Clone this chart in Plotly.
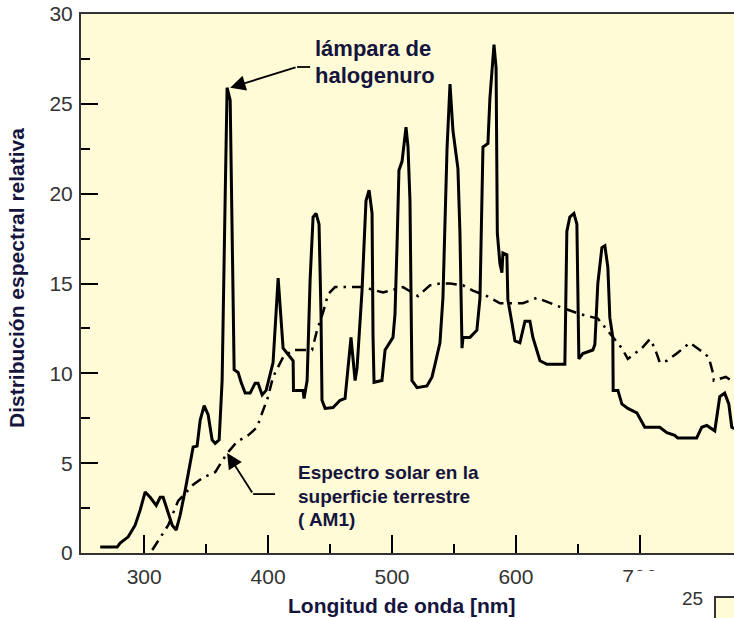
import plotly.graph_objects as go

# Halide lamp relative spectral distribution (solid line)
lamp_nm = [264.5, 278.2, 280.6, 287.1, 292.7, 296.8, 300.8, 304.8, 309.7, 312.9,
           315.3, 318.5, 322.6, 325.8, 329.0, 333.1, 337.1, 339.5, 342.7, 345.2,
           348.4, 351.6, 354.8, 357.3, 360.5, 362.9, 365.3, 366.9, 369.4, 372.6,
           375.8, 378.2, 381.5, 385.5, 389.5, 391.9, 395.2, 398.4, 404.0, 408.1,
           412.1, 420.2, 420.5, 428.2, 429.0, 431.5, 433.9, 436.3, 438.7, 441.1,
           442.7, 443.5, 446.0, 452.4, 458.1, 462.1, 464.5, 466.9, 470.2, 471.8,
           475.8, 479.0, 481.5, 483.9, 484.7, 485.5, 491.9, 494.4, 500.8, 502.4,
           504.0, 505.6, 508.1, 511.3, 512.9, 514.5, 516.1, 520.2, 528.2, 532.3,
           534.7, 538.7, 541.1, 544.4, 546.8, 549.2, 553.2, 554.8, 556.5, 557.3,
           562.9, 568.5, 571.0, 573.4, 577.4, 579.0, 582.3, 584.0, 585.0, 587.1,
           588.7, 589.5, 592.7, 593.5, 596.8, 599.2, 603.2, 607.3, 611.3, 613.7,
           619.4, 625.0, 639.5, 641.1, 643.5, 646.8, 649.2, 650.0, 650.8, 654.0,
           662.1, 663.7, 666.1, 669.4, 671.8, 674.2, 675.8, 678.2, 678.5, 682.3,
           685.5, 690.3, 697.6, 704.0, 716.1, 721.8, 728.2, 730.6, 745.9, 750.0,
           754.0, 760.5, 764.5, 768.5, 771.8, 774.2, 777.0]
lamp_val = [0.33, 0.33, 0.55, 0.9, 1.55, 2.4, 3.4, 3.1, 2.65, 3.1,
            3.1, 2.4, 1.55, 1.28, 2.1, 3.5, 5.05, 5.9, 5.95, 7.4,
            8.2, 7.7, 6.3, 6.1, 6.3, 9.6, 19.6, 25.9, 25.2, 10.2,
            10.05, 9.5, 8.9, 8.9, 9.45, 9.45, 8.8, 9.05, 10.6, 15.3,
            11.4, 10.7, 9.05, 9.05, 8.6, 9.6, 15.2, 18.7, 18.9, 18.3,
            13.3, 8.5, 8.05, 8.1, 8.5, 8.6, 10.3, 12.0, 9.6, 10.3,
            14.6, 19.6, 20.2, 18.9, 12.0, 9.5, 9.6, 11.3, 12.0, 13.3,
            17.0, 21.3, 21.8, 23.7, 22.6, 19.6, 9.6, 9.2, 9.3, 9.8,
            10.5, 11.7, 14.2, 22.5, 26.1, 23.5, 21.4, 17.9, 11.4, 12.0,
            12.0, 12.4, 14.2, 22.6, 22.8, 25.3, 28.3, 27.0, 17.8, 16.1,
            15.6, 16.7, 16.6, 14.1, 12.8, 11.8, 11.7, 12.9, 12.9, 12.0,
            10.7, 10.5, 10.5, 17.9, 18.7, 18.9, 18.3, 14.2, 10.8, 11.1,
            11.3, 11.6, 15.0, 17.0, 17.1, 15.9, 13.1, 12.0, 9.05, 9.05,
            8.3, 8.05, 7.8, 7.0, 7.0, 6.7, 6.55, 6.4, 6.4, 7.0,
            7.1, 6.8, 8.7, 8.9, 8.3, 7.0, 6.9]

# Solar spectrum at the earth's surface, AM1 (dash-dot line)
solar_nm = [306.5, 319.4, 327.4, 339.5, 347.6, 357.3, 366.9, 375.0, 383.9, 391.1,
            395.2, 400.0, 404.0, 412.1, 420.2, 435.5, 439.5, 444.4, 448.4, 454.0,
            463.7, 476.6, 492.7, 508.9, 521.0, 530.6, 538.7, 546.8, 557.3, 565.3,
            576.6, 587.1, 605.6, 616.9, 635.5, 651.6, 666.1, 678.2, 685.5, 690.3,
            701.6, 708.1, 712.1, 716.1, 721.8, 729.8, 740.3, 748.4, 755.6, 758.9,
            759.7, 769.4, 775.8]
solar_val = [0.17, 1.55, 2.9, 3.8, 4.2, 4.5, 5.55, 6.2, 6.55, 7.0,
             7.8, 8.7, 9.8, 10.9, 11.3, 11.3, 12.4, 13.4, 14.4, 14.8,
             14.8, 14.8, 14.5, 14.8, 14.3, 14.9, 15.0, 15.0, 14.9, 14.6,
             14.3, 13.9, 13.9, 14.2, 13.7, 13.3, 13.05, 12.0, 11.4, 10.8,
             11.4, 11.9, 11.4, 10.6, 10.7, 11.1, 11.7, 11.3, 10.9, 10.05,
             9.6, 9.8, 9.5]

x_major = [300, 400, 500, 600, 700]
x_minor = [350, 450, 550, 650]
y_major = [0, 5, 10, 15, 20, 25, 30]
y_minor = [2.5, 7.5, 12.5, 17.5, 22.5, 27.5]

X_RANGE = [249, 776]
Y_RANGE = [0, 30]
BG = "#FFFBD6"
FONT = "Liberation Sans, Arial, sans-serif"
INK = "#14143c"
TICK_INK = "#333333"

fig = go.Figure()
fig.add_trace(go.Scatter(x=solar_nm, y=solar_val, mode="lines",
                         line=dict(color="black", width=2.5, dash="11px,6px,2.5px,6px"),
                         hoverinfo="skip"))
fig.add_trace(go.Scatter(x=lamp_nm, y=lamp_val, mode="lines",
                         line=dict(color="black", width=3),
                         hoverinfo="skip"))

W, H = 734, 618
ML, MR, MT, MB = 81, 0, 14, 65
PW, PH = W - ML - MR, H - MT - MB


def px(xp, yp):
    """Pixel position to paper coordinates."""
    return (xp - ML) / PW, (H - MB - yp) / PH


annotations = []
# callout texts
for txt, xv, yv, size in [("lámpara de", 436.3, 28.1, 22), ("halogenuro", 436.3, 26.6, 22),
                          ("Espectro solar en la", 422.6, 4.5, 19),
                          ("superficie terrestre", 422.6, 3.17, 19),
                          ("( AM1)", 422.6, 1.84, 19)]:
    annotations.append(dict(x=xv, y=yv, xref="x", yref="y", text=f"<b>{txt}</b>",
                            showarrow=False, xanchor="left", yanchor="middle",
                            font=dict(family=FONT, size=size, color=INK)))
# arrows
for tip, tail in [((369.4, 25.9), (423.4, 27.05)), ((366.9, 5.56), (387.9, 3.28))]:
    annotations.append(dict(x=tip[0], y=tip[1], xref="x", yref="y",
                            ax=tail[0], ay=tail[1], axref="x", ayref="y",
                            text="", showarrow=True, arrowhead=2, arrowsize=1.7,
                            arrowwidth=1.8, arrowcolor="black", standoff=0,
                            startstandoff=0))
# axis titles
tx, ty = px(16, 278)
annotations.append(dict(x=tx, y=ty, xref="paper", yref="paper", textangle=-90,
                        text="<b>Distribución espectral relativa</b>", showarrow=False,
                        xanchor="center", yanchor="middle",
                        font=dict(family=FONT, size=21, color=INK)))
tx, ty = px(401, 605)
annotations.append(dict(x=tx, y=ty, xref="paper", yref="paper",
                        text="<b>Longitud de onda [nm]</b>", showarrow=False,
                        xanchor="center", yanchor="middle",
                        font=dict(family=FONT, size=21, color=INK)))
# neighbouring panel fragment
tx, ty = px(692, 598)
annotations.append(dict(x=tx, y=ty, xref="paper", yref="paper", text="25",
                        showarrow=False, xanchor="center", yanchor="middle",
                        font=dict(family=FONT, size=19, color=TICK_INK)))

shapes = []
# horizontal leader stubs of the callout arrows
shapes.append(dict(type="line", xref="x", yref="y", x0=423.4, y0=27.05, x1=433.9, y1=27.05,
                   line=dict(color="black", width=1.8)))
shapes.append(dict(type="line", xref="x", yref="y", x0=387.9, y0=3.28, x1=405.6, y1=3.28,
                   line=dict(color="black", width=1.8)))
# white band partly hiding the last tick label
x0, y0 = px(612, 582)
x1, y1 = px(670, 600)
shapes.append(dict(type="rect", xref="paper", yref="paper", x0=x0, y0=y1, x1=x1, y1=y0,
                   fillcolor="white", line=dict(width=0), layer="above"))
x0, y0 = px(634, 571)
x1, y1 = px(670, 582)
shapes.append(dict(type="rect", xref="paper", yref="paper", x0=x0, y0=y1, x1=x1, y1=y0,
                   fillcolor="white", line=dict(width=0), layer="above"))
# corner of the next panel
x0, y0 = px(715, 597)
x1, y1 = px(760, 640)
shapes.append(dict(type="rect", xref="paper", yref="paper", x0=x0, y0=y1, x1=x1, y1=y0,
                   fillcolor=BG, line=dict(color=TICK_INK, width=2), layer="above"))

fig.update_layout(
    width=W, height=H,
    margin=dict(l=ML, r=MR, t=MT, b=MB, pad=0),
    paper_bgcolor="white", plot_bgcolor=BG,
    showlegend=False,
    font=dict(family=FONT, size=21, color=TICK_INK),
    annotations=annotations,
    shapes=shapes,
    xaxis=dict(range=X_RANGE, tickvals=x_major, ticks="inside", ticklen=18, tickwidth=2,
               tickcolor="black", showgrid=False, zeroline=False,
               showline=True, linecolor=TICK_INK, linewidth=2, mirror=True,
               tickfont=dict(size=21, color=TICK_INK), ticklabelstandoff=4,
               minor=dict(tickvals=x_minor, ticks="inside", ticklen=9, tickwidth=2,
                          tickcolor="black", showgrid=False)),
    yaxis=dict(range=Y_RANGE, tickvals=y_major, ticks="inside", ticklen=17, tickwidth=2,
               tickcolor="black", showgrid=False, zeroline=False,
               showline=True, linecolor=TICK_INK, linewidth=2,
               tickfont=dict(size=21, color=TICK_INK), ticklabelstandoff=2,
               minor=dict(tickvals=y_minor, ticks="inside", ticklen=9, tickwidth=2,
                          tickcolor="black", showgrid=False)),
)

fig.write_html("out.html")
